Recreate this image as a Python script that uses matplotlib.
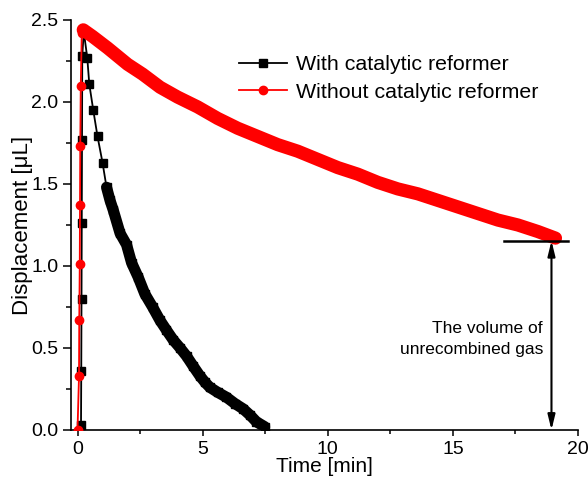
import matplotlib
matplotlib.use("Agg")
import matplotlib.pyplot as plt
from matplotlib.ticker import MultipleLocator
from matplotlib.lines import Line2D

# ---- data ----
black_time = [0.14, 0.15, 0.16, 0.17, 0.18, 0.19, 0.25,
              0.39, 0.47, 0.63, 0.80, 1.00, 1.16, 1.30, 1.43, 1.70, 1.96, 2.16,
              2.43, 2.69, 3.00, 3.29, 3.55, 3.82, 4.10, 4.36, 4.62, 4.89, 5.10,
              5.29, 5.60, 5.95, 6.30, 6.61, 6.90, 7.15, 7.48]
black_disp = [0.03, 0.36, 0.80, 1.26, 1.77, 2.28, 2.43,
              2.27, 2.11, 1.95, 1.79, 1.63, 1.48, 1.40, 1.34, 1.20, 1.13, 1.02,
              0.93, 0.83, 0.75, 0.67, 0.61, 0.55, 0.50, 0.45, 0.39, 0.33, 0.29,
              0.26, 0.23, 0.20, 0.16, 0.13, 0.09, 0.05, 0.02]
black_band_start = 12

red_time = [0.00, 0.06, 0.07, 0.09, 0.10, 0.11, 0.13, 0.17, 0.23,
            0.60, 1.20, 2.00, 2.60, 3.30, 4.00, 4.80, 5.60, 6.40, 7.20, 8.00,
            8.80, 9.60, 10.40, 11.20, 12.00, 12.80, 13.60, 14.40, 15.20, 16.00,
            16.80, 17.60, 18.40, 19.10]
red_disp = [0.00, 0.33, 0.67, 1.01, 1.37, 1.73, 2.10, 2.42, 2.44,
            2.40, 2.33, 2.23, 2.17, 2.09, 2.03, 1.97, 1.90, 1.84, 1.79, 1.74,
            1.70, 1.65, 1.60, 1.56, 1.51, 1.47, 1.44, 1.40, 1.36, 1.32,
            1.28, 1.25, 1.21, 1.17]
red_band_start = 8

series_labels = ["With catalytic reformer", "Without catalytic reformer"]
x_ticks = [0, 5, 10, 15, 20]
y_ticks = [0.0, 0.5, 1.0, 1.5, 2.0, 2.5]
residual_level = 1.154
residual_time = 18.94
residual_line = [17.05, 19.6]
annotation_text = "The volume of\nunrecombined gas"

plt.rcParams['font.family'] = ['Liberation Sans', 'DejaVu Sans']

fig = plt.figure(figsize=(5.88, 4.83), dpi=100)
ax = fig.add_axes([71 / 588, 53 / 483, 507 / 588, 410 / 483])

# black series
ax.plot(black_time[black_band_start:], black_disp[black_band_start:], color='black',
        lw=8, solid_capstyle='round', solid_joinstyle='round', zorder=2)
ax.plot(black_time, black_disp, color='black', lw=1.3, marker='s', ms=6, zorder=3)

# red series
ax.plot(red_time[red_band_start:], red_disp[red_band_start:], color='#ff0000',
        lw=9.5, solid_capstyle='round', solid_joinstyle='round', zorder=4)
ax.plot(red_time, red_disp, color='#ff0000', lw=1.3, marker='o', ms=6, zorder=5)

ax.set_xlim(-0.26, 20)
ax.set_ylim(0, 2.5)
ax.set_xticks(x_ticks)
ax.set_yticks(y_ticks)
ax.set_yticklabels([f"{v:.1f}" for v in y_ticks])
ax.xaxis.set_minor_locator(MultipleLocator(2.5))
ax.yaxis.set_minor_locator(MultipleLocator(0.25))
ax.tick_params(which='major', direction='out', length=5.5, width=1.1, labelsize=14)
ax.tick_params(which='minor', direction='out', length=3.5, width=1.1)
ax.tick_params(axis='x', which='major', length=4.5)
ax.tick_params(axis='x', which='minor', length=3)
for s in ['top', 'right']:
    ax.spines[s].set_visible(False)
for s in ['left', 'bottom']:
    ax.spines[s].set_linewidth(1.2)

ax.set_xlabel("Time [min]", fontsize=15, labelpad=-1)
ax.set_ylabel("Displacement [\u03bcL]", fontsize=16, labelpad=-1)

# annotation: residual gas
ax.plot(residual_line, [residual_level, residual_level], color='black', lw=1.8, zorder=6)
ax.annotate("", xy=(residual_time, 0), xytext=(residual_time, residual_level),
            arrowprops=dict(arrowstyle='<|-|>,head_length=0.9,head_width=0.22',
                            color='black', lw=1.5, shrinkA=0, shrinkB=0), zorder=6)
ax.text(18.6, 0.555, annotation_text, ha='right', va='center', fontsize=12.5,
        linespacing=1.5)

handles = [Line2D([], [], color='black', lw=1.3, marker='s', ms=5.5),
           Line2D([], [], color='#ff0000', lw=1.3, marker='o', ms=6)]
leg = fig.legend(handles, series_labels, loc='upper left',
                 bbox_to_anchor=(239 / 588, 1 - 55 / 483), frameon=False,
                 fontsize=15.4, handlelength=2.25, handletextpad=0.4,
                 labelspacing=0.4, borderpad=0, borderaxespad=0, numpoints=1)

fig.savefig("out.png", dpi=100)
